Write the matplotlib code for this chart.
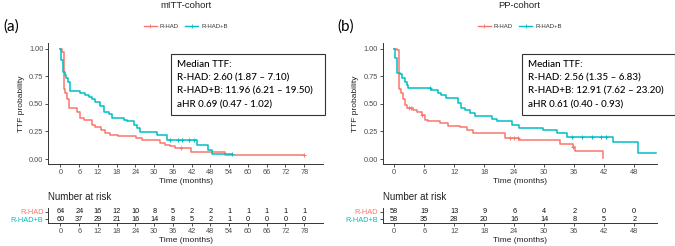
import matplotlib
matplotlib.use("Agg")
import matplotlib.pyplot as plt
from matplotlib.lines import Line2D
import numpy as np

RED = "#F8766D"
CYAN = "#00BFC4"

# ---- mITT cohort (a) ----
a_red_t = [0, 0.6, 1.0, 1.4, 2.0, 2.6, 5.2, 6.3, 7.4, 10.0, 11.0, 13.1, 14.2, 15.8, 18.5, 21.0,
           24.2, 26.0, 32.0, 33.5, 35.0, 36.5, 41.8, 52.5, 78.0]
a_red_s = [1.0, 0.97, 0.63, 0.60, 0.54, 0.46, 0.43, 0.37, 0.35, 0.31, 0.29, 0.265, 0.24, 0.22, 0.21, 0.205,
           0.19, 0.17, 0.145, 0.13, 0.115, 0.10, 0.065, 0.036, 0.036]
a_red_cens = [38.5, 78.0]
a_cyan_t = [0, 0.2, 0.8, 1.3, 1.9, 2.4, 2.9, 6.3, 7.9, 9.0, 10.1, 11.2, 12.8, 13.9, 15.5, 16.6,
            20.3, 21.4, 23.5, 24.6, 25.6, 31.0, 34.0, 43.6, 47.3, 48.4, 54.8]
a_cyan_s = [1.0, 0.90, 0.79, 0.76, 0.73, 0.70, 0.62, 0.60, 0.58, 0.56, 0.54, 0.52, 0.48, 0.43, 0.41, 0.37,
            0.355, 0.34, 0.31, 0.28, 0.245, 0.22, 0.175, 0.125, 0.08, 0.045, 0.045]
a_cyan_cens = [35.0, 37.5, 38.8, 41.2, 42.6, 54.8]
a_risk_times = [0, 6, 12, 18, 24, 30, 36, 42, 48, 54, 60, 66, 72, 78]
a_risk_red = [64, 24, 16, 12, 10, 8, 5, 2, 2, 1, 1, 1, 1, 1]
a_risk_cyan = [60, 37, 29, 21, 16, 14, 8, 5, 2, 1, 0, 0, 0, 0]
a_box = ["Median TTF:", "R-HAD: 2.60 (1.87 \u2013 7.10)",
         "R-HAD+B: 11.96 (6.21 \u2013 19.50)", "aHR 0.69 (0.47 - 1.02)"]

# ---- PP cohort (b) ----
b_red_t = [0, 0.5, 0.9, 1.4, 1.7, 2.1, 2.5, 3.8, 4.5, 5.5, 6.2, 6.8, 9.1, 10.8, 13.1, 14.5, 15.8,
           22.1, 25.0, 33.1, 35.8, 36.1, 41.8]
b_red_s = [1.0, 0.985, 0.63, 0.60, 0.54, 0.49, 0.46, 0.445, 0.43, 0.40, 0.356, 0.34, 0.326, 0.30, 0.29,
           0.266, 0.236, 0.19, 0.17, 0.14, 0.11, 0.07, 0.01]
b_red_cens = [2.9, 3.3, 5.6, 23.2, 24.0, 24.8, 35.8]
b_cyan_t = [0, 0.2, 0.5, 1.1, 1.5, 2.1, 2.5, 2.8, 7.3, 8.7, 9.4, 10.4, 12.7, 13.4, 14.1, 15.1, 16.1,
            19.5, 20.5, 23.5, 24.9, 29.8, 32.5, 34.5, 43.8, 48.8, 52.3]
b_cyan_s = [1.0, 0.915, 0.78, 0.765, 0.73, 0.70, 0.67, 0.64, 0.625, 0.60, 0.58, 0.55, 0.51, 0.46, 0.445,
            0.42, 0.385, 0.365, 0.34, 0.31, 0.28, 0.265, 0.235, 0.20, 0.15, 0.055, 0.055]
b_cyan_cens = [7.1, 35.5, 37.5, 39.5, 41.3, 42.3]
b_risk_times = [0, 6, 12, 18, 24, 30, 36, 42, 48]
b_risk_red = [58, 19, 13, 9, 6, 4, 2, 0, 0]
b_risk_cyan = [58, 35, 28, 20, 16, 14, 8, 5, 2]
b_box = ["Median TTF:", "R-HAD: 2.56 (1.35 \u2013 6.83)",
         "R-HAD+B: 12.91 (7.62 \u2013 23.20)", "aHR 0.61 (0.40 - 0.93)"]

W, H = 675, 246
fig = plt.figure(figsize=(W / 100, H / 100), dpi=100)
plt.rcParams['font.family'] = ['Liberation Sans', 'DejaVu Sans']
AX_COL = "#333333"
TXT_COL = "#4D4D4D"


def px_axes(x0, x1, y0, y1):
    return fig.add_axes([x0 / W, 1 - y1 / H, (x1 - x0) / W, (y1 - y0) / H])


def style(ax):
    for s in ["top", "right"]:
        ax.spines[s].set_visible(False)
    for s in ["left", "bottom"]:
        ax.spines[s].set_color(AX_COL)
        ax.spines[s].set_linewidth(0.7)
    ax.tick_params(length=2, width=0.6, color=AX_COL, labelsize=5.3, labelcolor=TXT_COL, pad=1.5)


def step_at(ts, ss, t):
    i = np.searchsorted(ts, t, side="right") - 1
    return np.array(ss)[i]


def panel(x0, x1, xlim, xmax_tick, red_t, red_s, red_c, cyan_t, cyan_s, cyan_c,
          risk_t, risk_r, risk_c, box, title, letter, box_x0, box_x1):
    ax = px_axes(x0, x1, 43, 164)
    style(ax)
    for t, s, c, col in [(red_t, red_s, red_c, RED), (cyan_t, cyan_s, cyan_c, CYAN)]:
        ax.step(t, s, where="post", color=col, lw=1.1)
        ax.plot(c, step_at(t, s, c), ls="none", marker="+", ms=3.5, mew=0.7, color=col)
    ax.set_xlim(*xlim)
    ax.set_ylim(-0.045, 1.05)
    ax.set_xticks(np.arange(0, xmax_tick + 1, 6))
    ax.set_yticks([0, 0.25, 0.5, 0.75, 1.0])
    ax.set_yticklabels(["0.00", "0.25", "0.50", "0.75", "1.00"])
    ax.set_xlabel("Time (months)", fontsize=6, color="#222222", labelpad=1.5)
    ax.set_ylabel("TTF probability", fontsize=6, color="#222222", labelpad=3)
    handles = [Line2D([], [], color=RED, marker="+", ms=3, mew=0.6, lw=1),
               Line2D([], [], color=CYAN, marker="+", ms=3, mew=0.6, lw=1)]
    ax.legend(handles, ["R-HAD", "R-HAD+B"], loc="center", bbox_to_anchor=(0.5, 1.135), ncol=2,
              frameon=False, fontsize=4.3, handlelength=2.2, columnspacing=1.0, handletextpad=0.5,
              labelcolor="#333333")
    cx = (x0 + x1) / 2
    fig.text(cx / W, 1 - 6 / H, title, ha="center", va="center", fontsize=6.8, color="#222222")
    fig.text((x0 - 45) / W, 1 - 27 / H, letter, ha="left", va="center", fontsize=11,
             family=["Lato", "DejaVu Sans"])
    # median box
    fig.patches.append(plt.Rectangle((box_x0 / W, 1 - 115 / H), (box_x1 - box_x0) / W, 61 / H,
                                     transform=fig.transFigure, fill=False, lw=0.8,
                                     edgecolor="#333333", figure=fig))
    for i, line in enumerate(box):
        fig.text((box_x0 + 6) / W, 1 - (64 + i * 13.6) / H, line, ha="left", va="center",
                 fontsize=7.0, family=["Lato", "DejaVu Sans"], weight="medium", color="#000000")

    # risk table
    rt = px_axes(x0, x1, 208, 222.7)
    style(rt)
    rt.set_xlim(*xlim)
    rt.set_ylim(0.55, 2.5)
    rt.set_xticks(np.arange(0, xmax_tick + 1, 6))
    rt.set_yticks([2, 1])
    rt.set_yticklabels(["R-HAD", "R-HAD+B"])
    for lab, col in zip(rt.get_yticklabels(), [RED, CYAN]):
        lab.set_color(col)
    for t, r, c in zip(risk_t, risk_r, risk_c):
        rt.text(t, 2, str(r), ha="center", va="center", fontsize=5.3, color="#111111")
        rt.text(t, 1, str(c), ha="center", va="center", fontsize=5.3, color="#111111")
    rt.set_xlabel("Time (months)", fontsize=6, color="#222222", labelpad=1.5)
    fig.text(x0 / W, 1 - 196.5 / H, "Number at risk", ha="left", va="center", fontsize=7,
             color="#222222")


panel(48.3, 323, (-3.9, 84), 78, a_red_t, a_red_s, a_red_cens, a_cyan_t, a_cyan_s, a_cyan_cens,
      a_risk_times, a_risk_red, a_risk_cyan, a_box, "mITT-cohort", "(a)", 170.7, 325)
panel(382.7, 656.7, (-2.3, 52.5), 48, b_red_t, b_red_s, b_red_cens, b_cyan_t, b_cyan_s, b_cyan_cens,
      b_risk_times, b_risk_red, b_risk_cyan, b_box, "PP-cohort", "(b)", 522.3, 674.5)

fig.savefig("out.png", dpi=100)
